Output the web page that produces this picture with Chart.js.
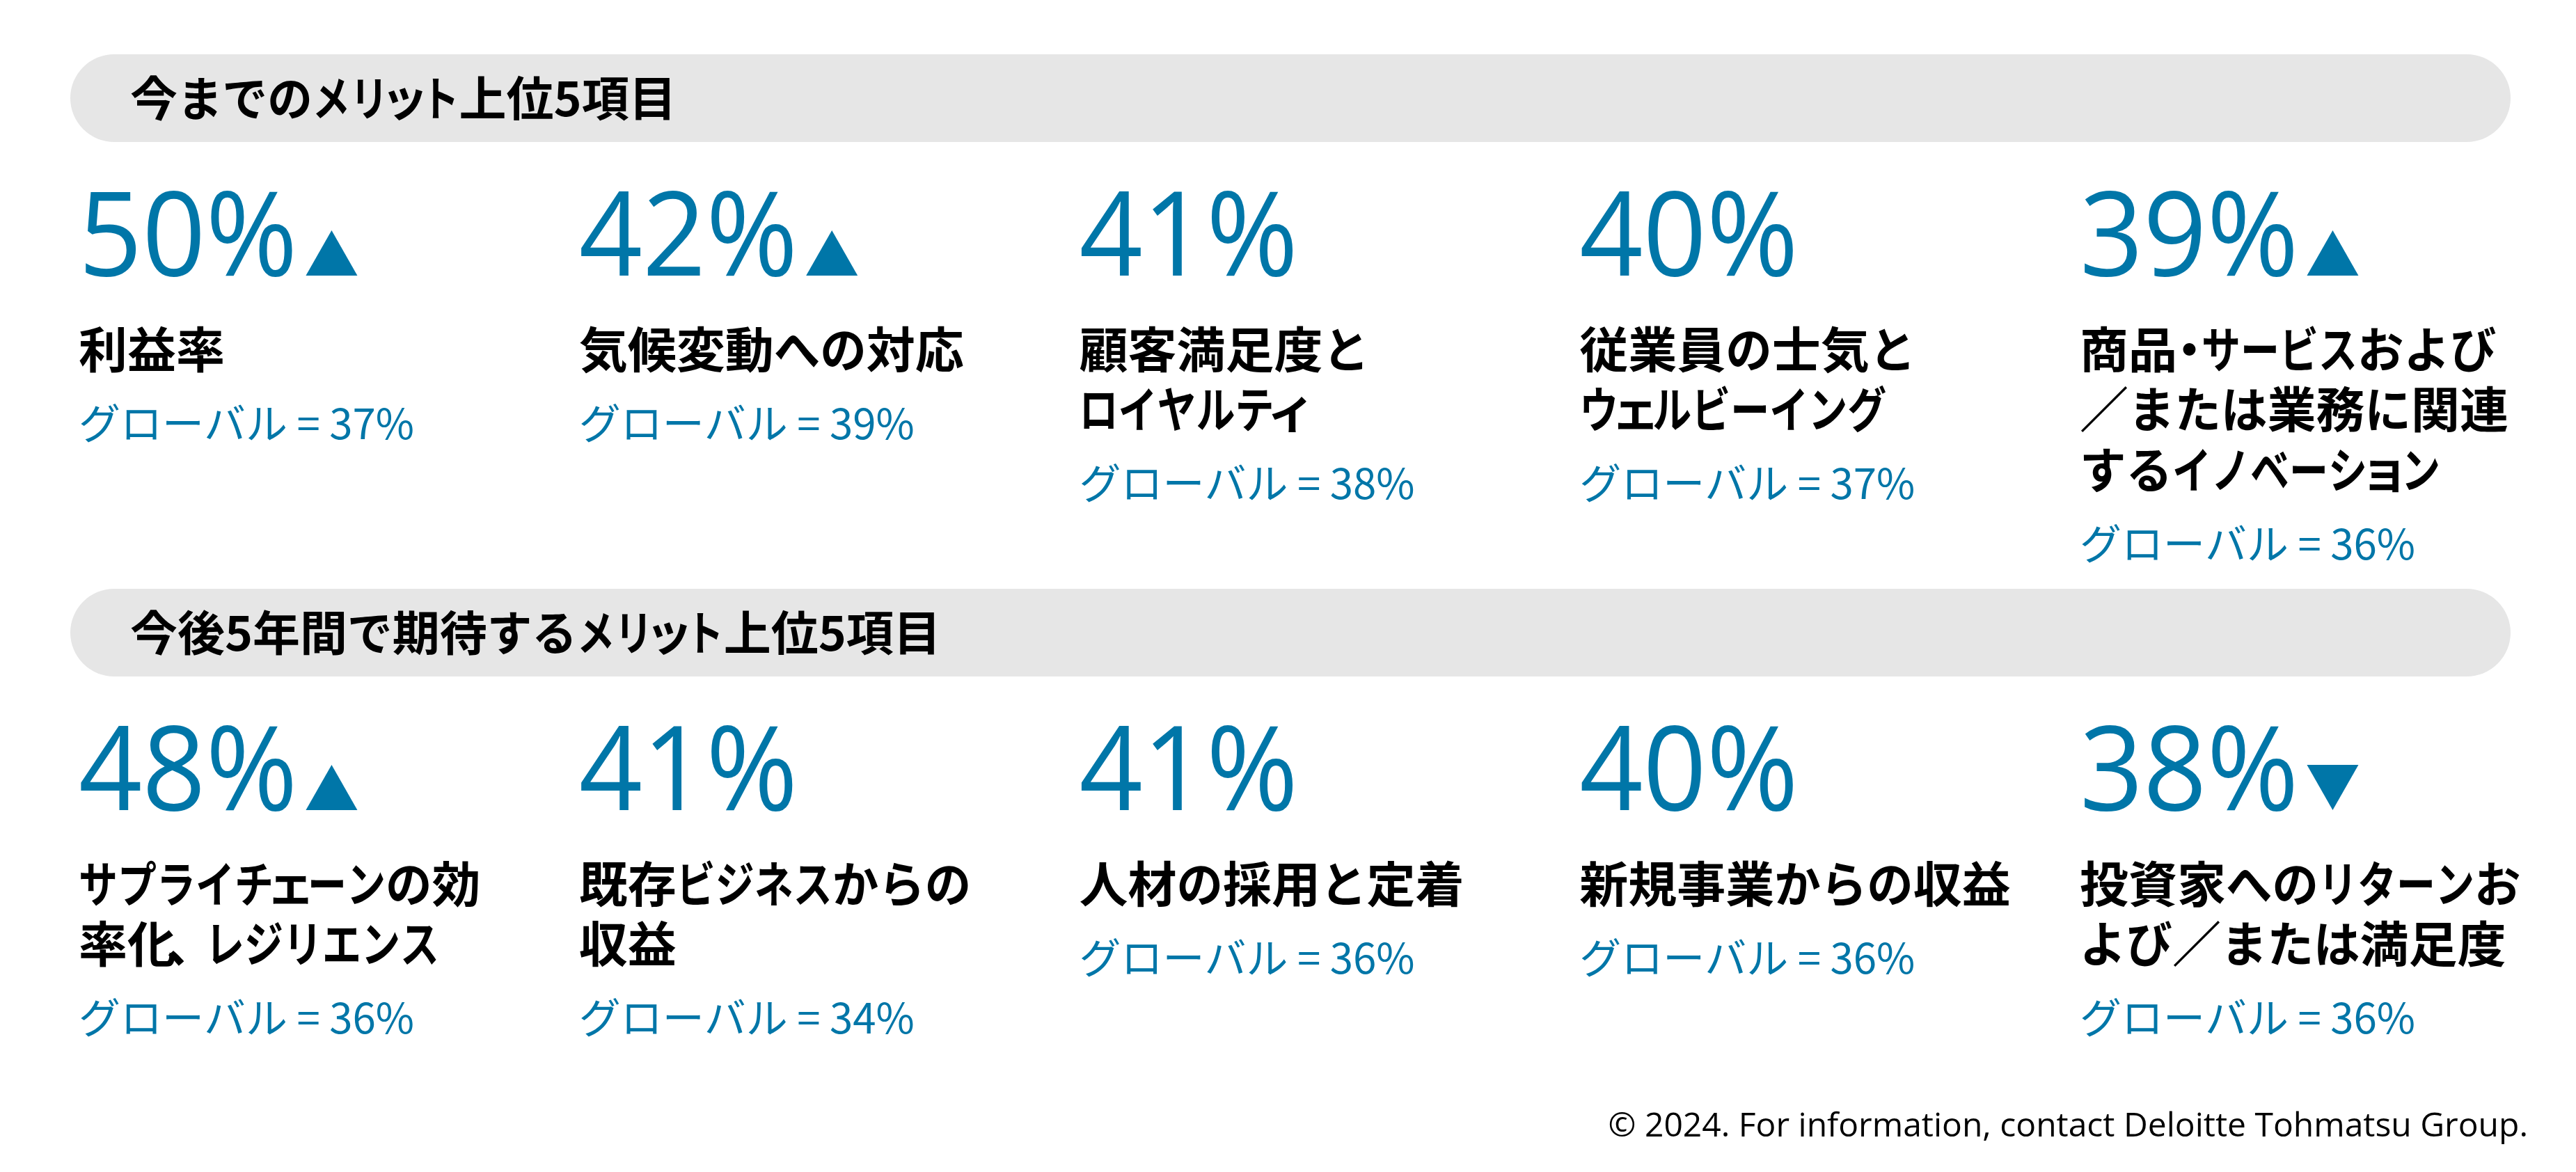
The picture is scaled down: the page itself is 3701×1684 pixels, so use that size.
<!DOCTYPE html>
<html lang="ja">
<head>
<meta charset="utf-8">
<script src="https://cdn.jsdelivr.net/npm/chart.js@4.4.1/dist/chart.umd.min.js"></script>
<style>
  html, body { margin: 0; padding: 0; background: #fff; }
  #wrap { width: 3701px; height: 1684px; position: relative; }
</style>
</head>
<body>
<div id="wrap"><canvas id="c"></canvas></div>
<script>
// ── データ ──
const headers = ['今までのメリット上位5項目', '今後5年間で期待するメリット上位5項目'];

const pastValues = [50, 42, 41, 40, 39];
const pastGlobal = [37, 39, 38, 37, 36];
const pastTrend  = ['up', 'up', '', '', 'up'];
const pastLabels = [
  ['利益率'],
  ['気候変動への対応'],
  ['顧客満足度と', 'ロイヤルティ'],
  ['従業員の士気と', 'ウェルビーイング'],
  ['商品・サービスおよび', '／または業務に関連', 'するイノベーション'],
];

const futureValues = [48, 41, 41, 40, 38];
const futureGlobal = [36, 34, 36, 36, 36];
const futureTrend  = ['up', '', '', '', 'down'];
const futureLabels = [
  ['サプライチェーンの効', '率化、レジリエンス'],
  ['既存ビジネスからの', '収益'],
  ['人材の採用と定着'],
  ['新規事業からの収益'],
  ['投資家へのリターンお', 'よび／または満足度'],
];

const footer = '© 2024. For information, contact Deloitte Tohmatsu Group.';

// ── スタイル ──
const BLUE = '#0076a8';
const GRAY = '#e6e6e6';
const INK  = '#000000';
const JP   = '"Noto Sans CJK JP", "Noto Sans", sans-serif';
const NUM  = '"Open Sans", "Noto Sans", sans-serif';

const rows = [
  { values: pastValues,   global: pastGlobal,   trend: pastTrend,   labels: pastLabels },
  { values: futureValues, global: futureGlobal, trend: futureTrend, labels: futureLabels },
];

// かなを少し細く描く（プロポーショナル風）
// [幅の係数, 字形を縮めるか]
function charFit(ch) {
  if ('ァィゥェォッャュョヮヵヶ'.includes(ch)) return [0.7, false];
  if (ch === '・') return [0.5, false];
  if (ch === '、') return [0.6, false];
  if (/[\u30A0-\u30FF]/.test(ch)) return [0.8, true];
  if (/[\u3040-\u309F]/.test(ch)) return [0.95, true];
  return [1, false];
}

function drawTight(ctx, text, x, y) {
  let cx = x;
  for (const ch of text) {
    const w = ctx.measureText(ch).width;
    const [f, squeeze] = charFit(ch);
    if (squeeze) {
      ctx.save();
      ctx.translate(cx, y);
      ctx.scale(f, 1);
      ctx.fillText(ch, 0, 0);
      ctx.restore();
    } else {
      ctx.fillText(ch, cx - w * (1 - f) / 2, y);
    }
    cx += w * f;
  }
  return cx - x;
}

// ── 描画プラグイン ──
const infographic = {
  id: 'infographic',
  afterDatasetsDraw(chart) {
    const { ctx, chartArea, scales } = chart;
    ctx.save();

    // 見出しバー
    headers.forEach((h, r) => {
      const cy = scales.y.getPixelForValue(r) - 255;
      const left = chartArea.left + 101, right = chartArea.right - 94, hh = 126;
      ctx.fillStyle = GRAY;
      ctx.beginPath();
      ctx.roundRect(left, cy - hh / 2, right - left, hh, hh / 2);
      ctx.fill();
      ctx.fillStyle = INK;
      ctx.font = `700 68px ${JP}`;
      ctx.textAlign = 'left';
      ctx.textBaseline = 'middle';
      drawTight(ctx, h, left + 86, cy);
    });

    // 各項目
    rows.forEach((row, r) => {
      const meta = chart.getDatasetMeta(r);
      meta.data.forEach((pt, i) => {
        const x = pt.x, y = pt.y;
        ctx.textAlign = 'left';
        ctx.textBaseline = 'alphabetic';

        // 大きな数値
        ctx.fillStyle = BLUE;
        ctx.font = `400 168px ${NUM}`;
        const txt = row.values[i] + '%';
        ctx.save();
        ctx.translate(x, y);
        ctx.scale(0.95, 1);
        ctx.fillText(txt, 0, 0);
        ctx.restore();
        const w = ctx.measureText(txt).width * 0.95;

        // 矢印
        const t = row.trend[i];
        if (t) {
          const tx = x + w + 12, tw = 74, th = 65;
          ctx.beginPath();
          if (t === 'up') {
            ctx.moveTo(tx, y); ctx.lineTo(tx + tw, y); ctx.lineTo(tx + tw / 2, y - th);
          } else {
            ctx.moveTo(tx, y - th); ctx.lineTo(tx + tw, y - th); ctx.lineTo(tx + tw / 2, y);
          }
          ctx.closePath();
          ctx.fill();
        }

        // 項目名
        ctx.fillStyle = INK;
        ctx.font = `700 70px ${JP}`;
        let ly = y + 133;
        row.labels[i].forEach((line, k) => {
          if (k > 0) ly += 86.5;
          drawTight(ctx, line, x, ly);
        });

        // グローバル
        ctx.fillStyle = BLUE;
        ctx.font = `400 60px ${JP}`;
        ctx.fillText('グローバル = ' + row.global[i] + '%', x, ly + 102);
      });
    });

    // フッター
    ctx.fillStyle = INK;
    ctx.font = `400 48px ${NUM}`;
    ctx.textAlign = 'right';
    ctx.textBaseline = 'alphabetic';
    ctx.fillText(footer, chartArea.right - 69, chartArea.bottom - 51);

    ctx.restore();
  }
};

new Chart(document.getElementById('c').getContext('2d'), {
  type: 'scatter',
  data: {
    datasets: rows.map((row, r) => ({
      label: headers[r],
      data: row.values.map((v, i) => ({ x: i, y: r })),
      pointRadius: 0,
      pointHoverRadius: 0,
    })),
  },
  options: {
    responsive: true,
    maintainAspectRatio: false,
    animation: false,
    events: [],
    layout: { padding: 0 },
    plugins: { legend: { display: false }, tooltip: { enabled: false } },
    scales: {
      x: { type: 'linear', display: false, min: -0.1572, max: 4.992 },
      y: { type: 'linear', display: false, reverse: true, min: -0.5156, max: 1.6771 },
    },
  },
  plugins: [infographic],
});
</script>
</body>
</html>
